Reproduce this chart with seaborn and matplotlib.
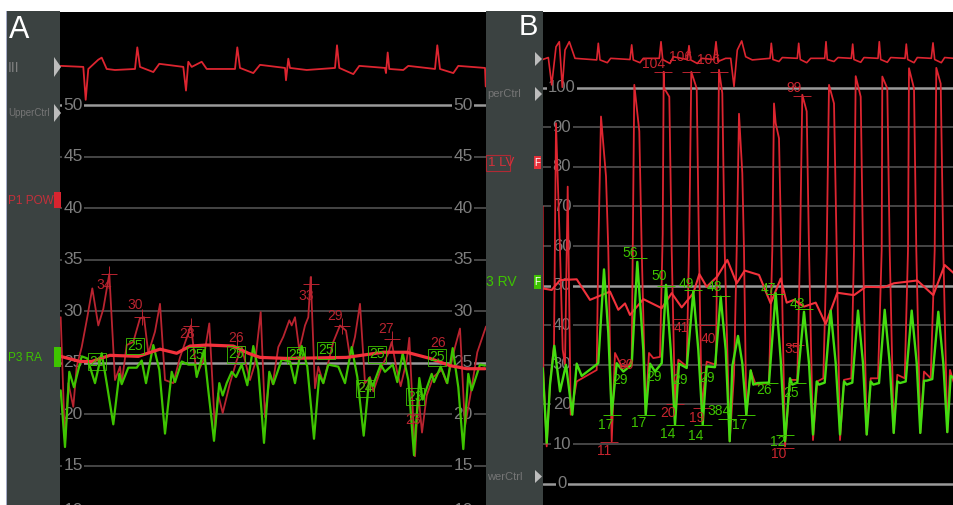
import matplotlib
matplotlib.use("Agg")
from matplotlib import pyplot as plt
from matplotlib.patches import Rectangle, Polygon
import seaborn as sns

# Panel A traces, time is the sweep position, values in mmHg
a_ecg_t = [60.7, 83.3, 85.7, 88.3, 98.3, 101.7, 106.7, 115, 135, 137.3, 140, 153.3, 159.3, 183.3, 186, 188.3, 191.7,
           201.7, 206.7, 235, 237.3, 240, 253.3, 260, 285, 286, 288.3, 290, 306.7, 335, 337, 339.3, 353.3, 359.3, 385,
           386, 387.7, 389.3, 403.3, 408.3, 435, 437.3, 440, 453.3, 458.3, 485, 485.7]
a_ecg_v = [53.8, 53.7, 50.5, 53.5, 54.4, 54.6, 53.5, 53.4, 53.5, 55.6, 53.7, 53.2, 54.0, 53.7, 51.4, 54.2, 53.7,
           54.2, 53.5, 53.5, 55.6, 53.6, 53.1, 53.9, 53.6, 52.4, 54.5, 53.6, 53.4, 53.6, 55.8, 53.6, 53.0, 53.8, 53.6,
           53.1, 55.1, 53.5, 53.4, 53.8, 53.5, 55.8, 53.5, 53.1, 53.8, 53.6, 51.8]

a_pcw_t = [60.7, 63.3, 65, 68.3, 73.3, 76.7, 81.7, 87.3, 92.3, 98.3, 103.3, 109.3, 115, 120, 121.7, 126.7, 133.3, 140,
           144, 148.3, 155, 160, 165, 173.3, 180, 186, 191, 196.7, 203.3, 209.3, 215, 218, 222.7, 230, 236.7, 241.7,
           248.3, 250, 255, 260.7, 265, 270, 272.7, 278.3, 283.3, 289.3, 291.7, 295, 299.3, 305, 308.3, 310.7, 315,
           318.3, 323.3, 333.3, 340, 346, 350, 355, 360, 365, 370, 373.3, 381.7, 388.3, 391.7, 396.7, 400.7, 406.7,
           409.3, 415, 418.3, 422, 426.7, 433.3, 441.7, 446.7, 455, 460, 465, 471.7, 477.3, 486]
a_pcw_v = [29.4, 22, 17.2, 23, 20.7, 24.6, 26.5, 29.4, 32.2, 28.6, 30.2, 33.6, 23.3, 24.6, 23, 26.7, 27, 29.3,
           29.4, 25.9, 28, 30.7, 23.3, 23, 25.5, 27.2, 28.6, 23.8, 25.2, 28.8, 18.5, 22, 20.1, 23, 25.2, 26.5,
           23.9, 23.3, 24.9, 29.9, 19.7, 23.9, 22.9, 26.5, 27.5, 29.1, 28.6, 29.4, 26.2, 28.6, 29.4, 33.3, 22.5,
           24.6, 23, 27, 28.6, 28.1, 25.5, 27.5, 30.7, 23, 23.6, 22.2, 24.6, 25.9, 27, 24.3, 22.7, 25.2,
           27.4, 15.9, 22, 18.2, 21.8, 23.6, 24.3, 23, 26.5, 28.3, 18.8, 22.6, 26, 28.5]

a_ra_t = [60.7, 65, 69.3, 74, 81.7, 87.3, 95, 101.7, 106.7, 113.3, 119.3, 121.7, 128.3, 136.7, 141.7, 146, 153.3, 159.3,
          165, 171.7, 175, 181.7, 188.3, 195, 196.7, 204, 208.3, 214, 219.3, 222.7, 226.7, 231.7, 236, 241.7, 247.3,
          253.3, 258.3, 264, 269.3, 273.3, 281.7, 290, 295, 301.7, 307.3, 314, 319.3, 323.3, 328.3, 338.3, 345, 351.7,
          357.3, 363.7, 369.3, 372.7, 380.7, 385, 392.7, 397.3, 402.7, 408.3, 414, 419.3, 422.7, 431.7, 434, 440.7,
          447.3, 452.7, 458.3, 463.3, 468.3, 471.7, 480, 485]
a_ra_v = [22.3, 16.8, 24.1, 22.6, 25.6, 25.4, 23, 25.9, 23, 19, 23.9, 22.9, 24.5, 24.5, 25.2, 23, 26.7, 24.3,
          18.1, 24.1, 23.1, 25.1, 24.8, 24.8, 23.6, 26.2, 22.3, 17.4, 23, 21.8, 23, 24.1, 23.6, 24.8, 22.8,
          26.6, 24.3, 17.2, 24.1, 22.9, 25.3, 25.1, 23, 26.6, 24.6, 17.6, 23.8, 23, 24.8, 24.6, 23, 26.5,
          23.6, 17.9, 23.5, 22.7, 24.8, 24.1, 24.8, 23.1, 25.9, 23.3, 16, 23.5, 21.4, 23.9, 23.1, 24.6,
          23, 26.4, 22.6, 16.6, 23.9, 22.3, 24.8, 24.7]

a_mean_t = [60.7, 80, 91.7, 110, 138.3, 160, 176.7, 190, 206.7, 233.3, 248.3, 260, 286.7, 346.7, 383.3, 406.7, 430, 450,
            466.7, 485]
a_mean_v = [25.6, 25.1, 25.1, 25.7, 25.6, 26.3, 25.9, 26.6, 26.7, 26.6, 25.9, 25.5, 25.4, 25.5, 26, 26, 25.4, 24.7,
            24.4, 24.4]

# Panel B traces
b_ecg_t = [542.7, 548.3, 551.7, 556, 559.3, 562.3, 565, 569.3, 575, 596.7, 598.3, 600, 607.3, 610.7, 630, 631.7, 633.3,
           640, 643.3, 659.3, 661, 662.7, 670, 673.3, 687.3, 689, 690.7, 697.3, 701.7, 714, 716, 718, 725.7, 730.7, 734,
           737.3, 741.7, 745.7, 752.3, 770, 771.3, 773, 779, 782.3, 797.3, 798.7, 800.3, 806.7, 810.7, 824.7, 826, 827.3,
           834, 838, 851.3, 852.7, 854, 860.7, 864, 878, 879.3, 880.7, 887.3, 890.7, 905, 906.3, 907.7, 914, 917.3,
           931.3, 933, 934.7, 941.3, 944.7, 954]
b_ecg_v = [107.1, 107.6, 100.7, 110.3, 111.6, 100.1, 109.5, 111.6, 107.4, 107, 111.2, 107, 106.3, 107.4, 107.1, 110.8, 107,
           106.3, 107.4, 107.4, 111.6, 107.1, 106.1, 107.8, 107.1, 110.6, 107, 106.1, 107.4, 107.1, 111.6, 106.6, 107.4, 107.4, 100.3,
           109.5, 111.8, 107.8, 107, 107.4, 111.2, 107.1, 106.6, 107.6, 107.4, 111.2, 107.1, 106.3, 107.4, 107.4, 111.6, 107.1,
           106.6, 107.6, 107.4, 111, 107.1, 106.4, 107.6, 107.4, 111.6, 107.1, 106.4, 107.6, 107.4, 111, 107.1, 106.3, 107.6,
           107.4, 111.3, 107.1, 106.3, 107.6, 107.4]

b_lv_t = [542.7, 543.3, 546.7, 550, 554, 556, 560, 562.7, 565, 567.7, 570.7, 576.7, 596.7, 598.3, 601, 606, 608.3, 611.7, 615,
          621.7, 628.3, 631.7, 634.3, 639.3, 641.7, 645.7, 649, 653.3, 660, 662.7, 663.7, 664.3, 669.3, 671.7, 675,
          678.3, 686.7, 689.3, 691.3, 696.7, 699, 701.7, 706.7, 716, 717.3, 719, 722.3, 724.7, 729.7, 734, 736.7,
          739, 742.3, 744, 746.3, 750.7, 755.7, 769, 772.3, 774, 775.7, 779, 781.3, 785, 790, 797.3, 800, 802.3, 806.7,
          809, 813, 817.3, 823.3, 826.7, 829, 834, 836.7, 840, 844, 851.3, 854, 855.7, 860.7, 863, 866.7, 870.7, 878,
          881.7, 882.3, 887.3, 889.7, 893.7, 897.3, 904.7, 908, 909, 914, 916.3, 920.3, 924, 930.7, 934.7, 936.3,
          940.7, 943.3, 947.3, 950, 954]
b_lv_v = [70, 29, 9.4, 25.4, 35, 91, 59, 33.8, 30, 75, 17.4, 25.8, 28.7, 59, 92.7, 77.6, 59, 10.7, 33,
          29.6, 29.6, 31.3, 100.7, 89, 59, 17.8, 33, 31.7, 32, 63, 104, 99.8, 97.7, 59, 19.9,
          31.3, 29.6, 63, 104, 99.8, 59, 19, 30.8, 30, 63, 104.5, 98.6, 59, 10.7, 27.5, 59,
          93.4, 78.4, 59, 17.4, 28.6, 25, 25.4, 59, 96, 91, 87.2, 59, 9.4, 26.2, 26.2, 59, 98.2, 94,
          59, 11, 25.8, 26.6, 59, 100.7, 96, 59, 11, 26.2, 26.6, 59, 102.9, 97.7, 59, 12.4, 26.6, 26.6,
          59, 102.8, 99.8, 59, 12.8, 27.5, 26.6, 59, 104.9, 99.8, 59, 12.8, 28.3, 26.6, 59, 105,
          101, 59, 13, 28.7, 25.4]

b_rv_t = [542.7, 546.7, 550, 554.3, 560, 566, 572.3, 576.7, 581.7, 598.3, 604, 608.3, 611.7, 616.7, 623.3, 631.7, 637.3,
          643.3, 645.7, 650, 655, 661.7, 666, 670.7, 675, 679, 686.7, 693.3, 698.3, 702.7, 706.7, 715, 720.7, 725.7,
          729.7, 732.3, 738, 742.3, 746.3, 750.7, 753.3, 757.3, 769, 775.7, 780.7, 785, 790, 792.3, 797.3, 804, 809, 813,
          816.7, 819, 824.7, 830.7, 835.7, 840, 844, 846.7, 852.3, 858, 863, 866.7, 870.7, 873.3, 879, 884.7, 889.7,
          893.7, 897.3, 900, 905.7, 911.7, 916.7, 920.3, 924, 926.7, 932.3, 938.3, 943.3, 947.3, 950.7, 954]
b_rv_v = [29.2, 10.3, 25, 34.8, 23.3, 30, 17.4, 30.3, 27.2, 30.4, 54.1, 38, 17.4, 30.4, 28.3, 30, 56,
          33.8, 17.4, 30.3, 28.3, 30.4, 50.2, 33.8, 14.9, 30.3, 29.2, 48.5, 33.8, 14.9, 29.6, 29.4, 47.2, 33.8,
          10.7, 29.6, 37.3, 30.4, 17.4, 28.6, 25, 25.4, 25.5, 48.1, 31.3, 10.7, 26.6, 25, 25.5, 43.4, 30.4, 12.4,
          25.8, 25, 25.5, 43.7, 30.4, 12.4, 25.8, 25, 25.5, 43.7, 30.4, 12.4, 25.8, 25, 25.4, 43.9, 30.4,
          12.8, 25.8, 25.4, 25.8, 43.7, 30.4, 12.8, 26, 26, 26.4, 43.4, 30.4, 13, 27.2, 26.6]

b_mean_t = [542.7, 551.7, 560, 576.7, 590, 610, 618.3, 625, 630, 643.3, 661.7, 671.7, 681.7, 693.3, 699.3, 706.7, 717.3,
            727.3, 736.7, 744.7, 759, 770.7, 780.7, 786.7, 794, 804, 815.7, 825.7, 837.3, 854, 865.7, 884, 894, 917.3,
            933.3, 944.7, 954]
b_mean_v = [49.3, 48.9, 51.4, 51.6, 46.4, 48.5, 43.9, 45.5, 42.6, 46.6, 44.3, 48.1, 44.5, 48.1, 52.9, 49.7, 52.3,
            56.5, 50.6, 53.8, 52.7, 45.5, 51.8, 45.7, 46.4, 44.7, 45.7, 40.3, 48.2, 47.6, 49.7, 49.6, 50.6, 51.3,
            47.6, 55.2, 53.1]

# Scale numbers
a_scale = [50, 45, 40, 35, 30, 25, 20, 15]
a_bright = [50, 25]
b_scale = [100, 90, 80, 70, 60, 50, 40, 30, 20, 10, 0]
b_bright = [100, 50, 0]

# Peak and trough read-outs on the traces
a_red_text = ["34", "30", "28", "26", "33", "29", "27", "24", "23", "26"]
a_red_text_t = [104, 135, 187, 236, 306, 335, 386, 365, 413, 438]
a_red_text_v = [32.5, 30.6, 27.8, 27.4, 31.5, 29.5, 28.3, 22.5, 19.4, 26.9]
a_red_mark_t = [109, 142, 191, 237, 310.7, 341.7, 391.7]
a_red_mark_v = [33.6, 29.4, 28.5, 26.6, 32.6, 28.5, 27.3]

a_green_text = ["26", "25", "25", "25", "25", "25", "25", "24", "23", "25"]
a_green_text_t = [97, 135, 196, 236, 296, 326, 377, 365, 415, 437]
a_green_text_v = [25.1, 26.6, 25.7, 25.8, 25.7, 26.2, 25.8, 22.5, 21.7, 25.5]

b_red_text = ["104", "106", "106", "99", "41", "40", "35", "30", "20", "19", "11", "10"]
b_red_text_t = [654, 681, 709, 794, 681, 708, 792, 626, 668, 697, 604, 779]
b_red_text_v = [106, 107.8, 107, 99.9, 39.3, 36.5, 34, 30, 17.9, 16.6, 8.3, 7.6]
b_red_mark_t = [663, 691, 719, 802, 682, 708, 795, 675, 702, 785, 609]
b_red_mark_v = [104, 104, 104, 98, 41.6, 40, 35, 20, 19, 9, 10.5]

b_green_text = ["56", "50", "49", "48", "47", "43", "29", "29", "29", "29", "17", "17", "14", "14", "384", "17", "26",
                "25", "12"]
b_green_text_t = [630, 659, 686, 714, 768, 797, 620, 654, 680, 707, 606, 639, 668, 696, 719, 740, 764, 791, 778]
b_green_text_v = [58.3, 52.4, 50.4, 49.7, 49.2, 45.4, 26.2, 27, 26.2, 26.7, 14.8, 15.3, 12.5, 12, 18.4, 14.8, 23.7,
                  22.9, 10.6]
b_green_mark_t = [638, 666, 693, 721, 775, 804, 611.7, 645.7, 675, 702.7, 727, 746.3, 785, 797, 769]
b_green_mark_v = [57, 50, 49, 47.5, 48, 44, 17.4, 17.4, 14.9, 14.9, 16.3, 17.4, 12.4, 25.5, 25.5]

RED_DARK = '#b92430'
RED = '#dd2530'
RED_MEAN = '#f2323c'
GREEN = '#3ec400'
GREEN_B = '#45dc10'
STRIP = '#3b4241'
SANS = ['Liberation Sans', 'DejaVu Sans']


def trace(ax, t, v, color, lw, zorder=2):
    sns.lineplot(x=t, y=v, ax=ax, color=color, linewidth=lw, sort=False, estimator=None, errorbar=None, zorder=zorder)


def scale(ax, values, bright, positions, size):
    # horizontal scale lines, the numbers sit on top of them
    for val in values:
        is_bright = val in bright
        ax.axhline(val, color='#9a9a9a' if is_bright else '#454545', lw=1.8 if is_bright else 1.4, zorder=1)
        for pos in positions:
            ax.text(pos, val, str(val), color='#7d7d7d', fontsize=size, family=SANS, va='center', ha='center',
                    zorder=1.5, bbox=dict(facecolor='black', edgecolor='none', pad=1))


def readouts(ax, text, t, v, color, size, boxed=False):
    for s, x, y in zip(text, t, v):
        box = dict(facecolor='none', edgecolor=color, lw=0.6, pad=1) if boxed else None
        ax.text(x, y, s, color=color, fontsize=size, family=SANS, ha='center', va='center', zorder=6, bbox=box)


sns.set_theme(style="dark", rc={'axes.facecolor': 'black', 'figure.facecolor': 'white'})
fig = plt.figure(figsize=(9.54, 5.05), dpi=100)

ax_a = fig.add_axes([60 / 954, 0, 426 / 954, 493 / 505])
ax_b = fig.add_axes([543 / 954, 0, 411 / 954, 493 / 505])
ax_a.set_xlim(60, 486)
ax_a.set_ylim(11.17, 59.03)
ax_b.set_xlim(543, 954)
ax_b.set_ylim(-5.4, 119.1)
for ax in (ax_a, ax_b):
    ax.set_axis_off()
    ax.add_patch(Rectangle((0, 0), 1, 1, transform=ax.transAxes, facecolor='black', edgecolor='none', zorder=0))

scale(ax_a, a_scale, a_bright, [73, 463], 12.5)
for pos in [73, 463]:
    ax_a.text(pos, 10.6, '10', color='#7d7d7d', fontsize=12.5, family=SANS, va='center', ha='center', clip_on=True)
scale(ax_b, b_scale, b_bright, [562], 12)

trace(ax_a, a_ecg_t, a_ecg_v, RED, 1.3)
trace(ax_a, a_pcw_t, a_pcw_v, RED_DARK, 1.3, 3)
trace(ax_a, a_ra_t, a_ra_v, GREEN, 1.6, 4)
trace(ax_a, a_mean_t, a_mean_v, RED_MEAN, 2.3, 5)

trace(ax_b, b_ecg_t, b_ecg_v, RED, 1.2)
trace(ax_b, b_lv_t, b_lv_v, RED, 1.3, 3)
trace(ax_b, b_mean_t, b_mean_v, RED_MEAN, 1.5, 4)
trace(ax_b, b_rv_t, b_rv_v, GREEN_B, 1.7, 5)

readouts(ax_a, a_red_text, a_red_text_t, a_red_text_v, RED_DARK, 10)
readouts(ax_a, a_green_text, a_green_text_t, a_green_text_v, GREEN, 10, boxed=True)
ax_a.plot(a_red_mark_t, a_red_mark_v, '+', color=RED_DARK, ms=12, mew=0.7, zorder=3)

readouts(ax_b, b_red_text, b_red_text_t, b_red_text_v, '#c8252f', 10)
readouts(ax_b, b_green_text, b_green_text_t, b_green_text_v, GREEN, 10)
ax_b.plot(b_red_mark_t, b_red_mark_v, '_', color=RED_DARK, ms=13, mew=0.7, zorder=3)
ax_b.plot(b_green_mark_t, b_green_mark_v, '_', color=GREEN, ms=13, mew=0.7, zorder=6)

# Screen furniture in pixel positions: side strips, channel names, panel letters
over = fig.add_axes([0, 0, 1, 1], facecolor='none', zorder=5)
over.set_xlim(0, 954)
over.set_ylim(505, 0)
over.set_axis_off()
over.add_patch(Rectangle((7, 11), 53, 494, facecolor=STRIP, edgecolor='none'))
over.add_patch(Rectangle((6, 11), 1.5, 494, facecolor='#a4aac6', edgecolor='none'))
over.add_patch(Rectangle((486, 11), 57, 494, facecolor=STRIP, edgecolor='none'))

for x, top, bot in [(54, 57, 77), (54, 104, 122), (535, 52, 66), (535, 87, 101), (535, 470, 483)]:
    over.add_patch(Polygon([(x, top), (x + 7, (top + bot) / 2), (x, bot)], facecolor='#bdbdbd', edgecolor='none'))

for x, top, bot, col in [(54, 192, 208, '#d8242f'), (54, 347, 367, GREEN), (534, 156, 169, '#e8303a'),
                         (534, 275, 289, GREEN)]:
    over.add_patch(Rectangle((x, top), 7, bot - top, facecolor=col, edgecolor='none'))
over.text(537.5, 162.5, 'F', color='white', fontsize=7, family=SANS, ha='center', va='center')
over.text(537.5, 282, 'F', color='white', fontsize=7, family=SANS, ha='center', va='center')

over.text(8, 68, 'III', color='#808080', fontsize=10, family=SANS, va='center')
over.text(8, 113, 'UpperCtrl', color='#757575', fontsize=7, family=SANS, va='center')
over.text(8, 201, 'P1 POW', color='#c4303a', fontsize=8.5, family=SANS, va='center')
over.text(8, 358, 'P3 RA', color=GREEN, fontsize=8.5, family=SANS, va='center')
over.text(487, 94, 'perCtrl', color='#757575', fontsize=8, family=SANS, va='center')
over.text(487, 477, 'werCtrl', color='#757575', fontsize=8, family=SANS, va='center')
over.text(488, 163, '1 LV', color='#d8303a', fontsize=9.5, family=SANS, va='center')
over.add_patch(Rectangle((486, 155), 24, 16, facecolor='none', edgecolor='#b02a34', lw=0.8))
over.text(486, 282, '3 RV', color=GREEN, fontsize=10, family=SANS, va='center')

over.text(9, 30, 'A', color='white', fontsize=22, family=SANS, va='center')
over.text(519, 27, 'B', color='white', fontsize=21, family=SANS, va='center')

fig.savefig('out.png', dpi=100)
